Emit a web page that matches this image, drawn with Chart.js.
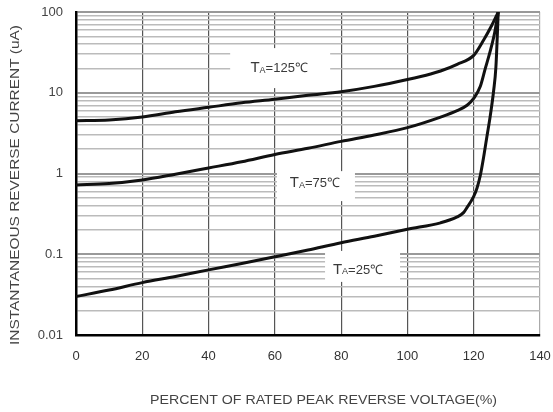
<!DOCTYPE html>
<html lang="en">
<head>
<meta charset="UTF-8">
<title>Reverse current vs reverse voltage</title>
<script src="https://cdn.jsdelivr.net/npm/chart.js"></script>
<style>
    body { margin: 0; background: #fff; }
    #wrap { width: 553px; height: 412px; }
</style>
</head>
<body>
<div id="wrap"><canvas id="myChart" width="553" height="412"></canvas></div>
<script>
    // TA=125℃
    const pct125 = [0, 10, 20, 30, 40, 50, 60, 70, 80, 90, 100, 107, 110, 115, 120, 123, 125.5, 127.4];
    const cur125 = [4.5, 4.6, 5.0, 5.8, 6.6, 7.5, 8.3, 9.3, 10.3, 12, 14.6, 17.1, 18.6, 22.5, 29, 45, 69, 100];
    // TA=75℃
    const pct75 = [0, 10, 20, 30, 40, 50, 60, 70, 80, 90, 100, 110, 115, 118, 120, 122, 123.5, 125, 126.3, 127.4];
    const cur75 = [0.72, 0.75, 0.83, 0.98, 1.17, 1.4, 1.72, 2.05, 2.5, 3.0, 3.7, 5.0, 6.0, 7.0, 8.5, 12, 20, 33, 55, 100];
    // TA=25℃
    const pct25 = [0, 10, 20, 30, 40, 50, 60, 70, 80, 90, 100, 110, 115, 117, 118, 119, 120, 121, 122, 123, 124, 125, 126, 126.7, 127.4];
    const cur25 = [0.03, 0.036, 0.0445, 0.053, 0.064, 0.077, 0.093, 0.113, 0.139, 0.167, 0.204, 0.245, 0.29, 0.33, 0.38, 0.44, 0.52, 0.66, 0.95, 1.6, 2.9, 5.2, 10.5, 21, 100];

    const curveNames = ['125℃', '75℃', '25℃'];
    const xTicks = [0, 20, 40, 60, 80, 100, 120, 140];
    const yDecades = [0.01, 0.1, 1, 10, 100];
    const yTickLabels = ['0.01', '0.1', '1', '10', '100'];

    const FONT = '"Liberation Sans", Arial, sans-serif';

    function toPoints(xs, ys) {
        return xs.map(function (x, i) { return { x: x, y: ys[i] }; });
    }
    function isDecade(v) {
        const l = Math.log10(v);
        return Math.abs(l - Math.round(l)) < 1e-6;
    }

    // label boxes: anchor in data units, box offsets in px
    const labelBoxes = [
        { x: 61.3, y: 20.2, box: [-49, -20, 100, 40] },
        { x: 72.1, y: 0.76, box: [-38, -12, 78, 30] },
        { x: 85.1, y: 0.064, box: [-33, -19, 75, 31] }
    ];

    const labelPlugin = {
        id: 'tempLabels',
        beforeDatasetsDraw: function (chart) {
            const ctx = chart.ctx;
            const xs = chart.scales.x, ys = chart.scales.y;
            labelBoxes.forEach(function (lb, i) {
                const cx = xs.getPixelForValue(lb.x);
                const cy = ys.getPixelForValue(lb.y);
                ctx.save();
                ctx.fillStyle = '#fff';
                ctx.fillRect(cx + lb.box[0], cy + lb.box[1], lb.box[2], lb.box[3]);
                ctx.fillStyle = '#3a3a3a';
                ctx.textBaseline = 'middle';
                ctx.textAlign = 'left';
                // T + subscript A + rest
                ctx.font = '15px ' + FONT;
                const wT = ctx.measureText('T').width;
                ctx.font = '9px ' + FONT;
                const wA = ctx.measureText('A').width;
                ctx.font = '13px ' + FONT;
                const rest = '=' + curveNames[i];
                const wR = ctx.measureText(rest).width;
                let x = cx - (wT + wA + wR) / 2;
                ctx.font = '15px ' + FONT;
                ctx.fillText('T', x, cy);
                x += wT;
                ctx.font = '9px ' + FONT;
                ctx.fillText('A', x, cy + 2);
                x += wA;
                ctx.font = '13px ' + FONT;
                ctx.fillText(rest, x, cy + 0.5);
                ctx.restore();
            });
        }
    };

    // axis titles drawn to fit the reference lengths
    const titlePlugin = {
        id: 'axisTitles',
        afterDraw: function (chart) {
            const ctx = chart.ctx;
            function fitText(text, cx, cy, len, rot) {
                ctx.save();
                ctx.font = '13px ' + FONT;
                ctx.fillStyle = '#444';
                ctx.textAlign = 'center';
                ctx.textBaseline = 'middle';
                const w = ctx.measureText(text).width;
                ctx.translate(cx, cy);
                ctx.rotate(rot);
                ctx.scale(len / w, 1);
                ctx.fillText(text, 0, 0);
                ctx.restore();
            }
            fitText('PERCENT OF RATED PEAK REVERSE VOLTAGE(%)', 323.5, 400, 347, 0);
            fitText('INSTANTANEOUS REVERSE CURRENT (uA)', 15, 185, 320, -Math.PI / 2);
        }
    };

    const lineStyle = {
        borderColor: '#111',
        borderWidth: 3,
        pointRadius: 0,
        fill: false,
        cubicInterpolationMode: 'monotone'
    };

    const ctx = document.getElementById('myChart');
    const mychart = new Chart(ctx, {
        type: 'line',
        data: {
            datasets: [
                Object.assign({ label: curveNames[0], data: toPoints(pct125, cur125) }, lineStyle),
                Object.assign({ label: curveNames[1], data: toPoints(pct75, cur75) }, lineStyle),
                Object.assign({ label: curveNames[2], data: toPoints(pct25, cur25) }, lineStyle)
            ]
        },
        options: {
            responsive: false,
            animation: false,
            layout: { padding: { top: 12, right: 13, left: 0, bottom: 0 } },
            plugins: {
                legend: { display: false },
                tooltip: { enabled: false }
            },
            scales: {
                x: {
                    type: 'linear',
                    min: 0,
                    max: 140,
                    afterFit: function (s) { s.height = 77; },
                    afterBuildTicks: function (s) {
                        s.ticks = xTicks.map(function (v) { return { value: v }; });
                    },
                    ticks: { padding: 0, color: '#333', font: { family: FONT, size: 13 } },
                    grid: {
                        drawTicks: true,
                        tickLength: 14,
                        tickColor: 'rgba(0,0,0,0)',
                        color: function (c) { return c.tick && c.tick.value === 140 ? '#aaa' : '#555'; },
                        lineWidth: 1.2
                    },
                    border: { color: '#000', width: 2.5 }
                },
                y: {
                    type: 'logarithmic',
                    min: 0.01,
                    max: 100,
                    afterFit: function (s) { s.width = 76; },
                    afterBuildTicks: function (s) {
                        const t = [];
                        for (let d = 0; d < yDecades.length - 1; d++) {
                            for (let m = 1; m <= 9; m++) {
                                t.push({ value: +(yDecades[d] * m).toPrecision(3) });
                            }
                        }
                        t.push({ value: yDecades[yDecades.length - 1] });
                        s.ticks = t;
                    },
                    ticks: {
                        autoSkip: false,
                        padding: 0,
                        color: '#444',
                        font: { family: FONT, size: 13 },
                        callback: function (v) {
                            const i = yDecades.indexOf(v);
                            return i >= 0 ? yTickLabels[i] : '';
                        }
                    },
                    grid: {
                        drawTicks: true,
                        tickLength: 13,
                        tickColor: 'rgba(0,0,0,0)',
                        color: function (c) { return c.tick && isDecade(c.tick.value) ? '#999' : '#bbb'; },
                        lineWidth: function (c) { return c.tick && isDecade(c.tick.value) ? 2 : 1.5; }
                    },
                    border: { color: '#000', width: 2.5 }
                }
            }
        },
        plugins: [labelPlugin, titlePlugin]
    });
</script>
</body>
</html>
